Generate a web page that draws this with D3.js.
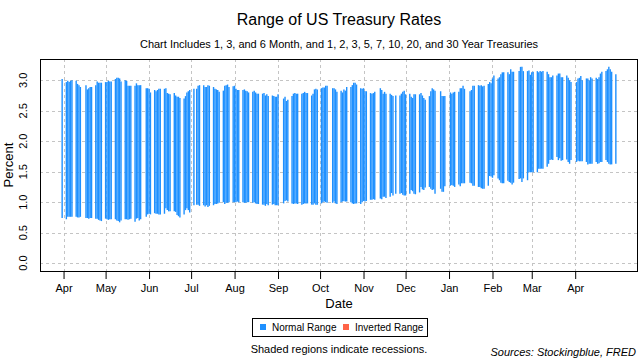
<!DOCTYPE html>
<html><head><meta charset="utf-8">
<script src="https://cdn.jsdelivr.net/npm/d3@7"></script>
<style>body{margin:0;background:#fff}svg{display:block}text{font-family:"Liberation Sans",Arial,sans-serif}</style>
</head><body>
<svg id="c" width="640" height="360"></svg>
<script>
const dates = ["2017-03-31",
"2017-04-03","2017-04-04","2017-04-05","2017-04-06","2017-04-07",
"2017-04-10","2017-04-11","2017-04-12","2017-04-13",
"2017-04-17","2017-04-18","2017-04-19","2017-04-20","2017-04-21",
"2017-04-24","2017-04-25","2017-04-26","2017-04-27","2017-04-28",
"2017-05-01","2017-05-02","2017-05-03","2017-05-04","2017-05-05",
"2017-05-08","2017-05-09","2017-05-10","2017-05-11","2017-05-12",
"2017-05-15","2017-05-16","2017-05-17","2017-05-18","2017-05-19",
"2017-05-22","2017-05-23","2017-05-24","2017-05-25","2017-05-26",
"2017-05-30","2017-05-31","2017-06-01","2017-06-02",
"2017-06-05","2017-06-06","2017-06-07","2017-06-08","2017-06-09",
"2017-06-12","2017-06-13","2017-06-14","2017-06-15","2017-06-16",
"2017-06-19","2017-06-20","2017-06-21","2017-06-22","2017-06-23",
"2017-06-26","2017-06-27","2017-06-28","2017-06-29","2017-06-30",
"2017-07-03","2017-07-05","2017-07-06","2017-07-07",
"2017-07-10","2017-07-11","2017-07-12","2017-07-13","2017-07-14",
"2017-07-17","2017-07-18","2017-07-19","2017-07-20","2017-07-21",
"2017-07-24","2017-07-25","2017-07-26","2017-07-27","2017-07-28",
"2017-07-31","2017-08-01","2017-08-02","2017-08-03","2017-08-04",
"2017-08-07","2017-08-08","2017-08-09","2017-08-10","2017-08-11",
"2017-08-14","2017-08-15","2017-08-16","2017-08-17","2017-08-18",
"2017-08-21","2017-08-22","2017-08-23","2017-08-24","2017-08-25",
"2017-08-28","2017-08-29","2017-08-30","2017-08-31","2017-09-01",
"2017-09-05","2017-09-06","2017-09-07","2017-09-08",
"2017-09-11","2017-09-12","2017-09-13","2017-09-14","2017-09-15",
"2017-09-18","2017-09-19","2017-09-20","2017-09-21","2017-09-22",
"2017-09-25","2017-09-26","2017-09-27","2017-09-28","2017-09-29",
"2017-10-02","2017-10-03","2017-10-04","2017-10-05","2017-10-06",
"2017-10-10","2017-10-11","2017-10-12","2017-10-13",
"2017-10-16","2017-10-17","2017-10-18","2017-10-19","2017-10-20",
"2017-10-23","2017-10-24","2017-10-25","2017-10-26","2017-10-27",
"2017-10-30","2017-10-31","2017-11-01","2017-11-02","2017-11-03",
"2017-11-06","2017-11-07","2017-11-08","2017-11-09",
"2017-11-13","2017-11-14","2017-11-15","2017-11-16","2017-11-17",
"2017-11-20","2017-11-21","2017-11-22","2017-11-24",
"2017-11-27","2017-11-28","2017-11-29","2017-11-30","2017-12-01",
"2017-12-04","2017-12-05","2017-12-06","2017-12-07","2017-12-08",
"2017-12-11","2017-12-12","2017-12-13","2017-12-14","2017-12-15",
"2017-12-18","2017-12-19","2017-12-20","2017-12-21","2017-12-22",
"2017-12-26","2017-12-27","2017-12-28","2017-12-29",
"2018-01-02","2018-01-03","2018-01-04","2018-01-05",
"2018-01-08","2018-01-09","2018-01-10","2018-01-11","2018-01-12",
"2018-01-16","2018-01-17","2018-01-18","2018-01-19",
"2018-01-22","2018-01-23","2018-01-24","2018-01-25","2018-01-26",
"2018-01-29","2018-01-30","2018-01-31","2018-02-01","2018-02-02",
"2018-02-05","2018-02-06","2018-02-07","2018-02-08","2018-02-09",
"2018-02-12","2018-02-13","2018-02-14","2018-02-15","2018-02-16",
"2018-02-20","2018-02-21","2018-02-22","2018-02-23",
"2018-02-26","2018-02-27","2018-02-28","2018-03-01","2018-03-02",
"2018-03-05","2018-03-06","2018-03-07","2018-03-08","2018-03-09",
"2018-03-12","2018-03-13","2018-03-14","2018-03-15","2018-03-16",
"2018-03-19","2018-03-20","2018-03-21","2018-03-22","2018-03-23",
"2018-03-26","2018-03-27","2018-03-28","2018-03-29",
"2018-04-02","2018-04-03","2018-04-04","2018-04-05","2018-04-06",
"2018-04-09","2018-04-10","2018-04-11","2018-04-12","2018-04-13",
"2018-04-16","2018-04-17","2018-04-18","2018-04-19","2018-04-20",
"2018-04-23","2018-04-24","2018-04-25","2018-04-26","2018-04-27",
"2018-04-30"];

const highs = [3.02,
2.97,2.99,2.97,2.99,3.00,
2.99,2.94,2.92,2.89,
2.92,2.85,2.87,2.89,2.89,
2.92,2.98,2.96,2.96,2.96,
2.97,2.97,2.99,2.98,2.98,
3.02,3.04,3.04,3.03,2.98,
3.00,2.99,2.91,2.91,2.91,
2.91,2.95,2.92,2.92,2.92,
2.87,2.87,2.86,2.80,
2.84,2.82,2.84,2.86,2.86,
2.86,2.87,2.79,2.78,2.77,
2.79,2.75,2.73,2.73,2.71,
2.70,2.74,2.80,2.82,2.84,
2.86,2.86,2.91,2.92,
2.92,2.89,2.89,2.92,2.91,
2.89,2.86,2.85,2.84,2.81,
2.83,2.91,2.92,2.93,2.89,
2.90,2.91,2.86,2.84,2.84,
2.84,2.85,2.83,2.82,2.80,
2.81,2.83,2.80,2.78,2.78,
2.78,2.79,2.75,2.77,2.74,
2.75,2.74,2.73,2.73,2.77,
2.70,2.73,2.66,2.68,
2.74,2.78,2.79,2.78,2.78,
2.78,2.79,2.81,2.79,2.79,
2.75,2.78,2.85,2.86,2.85,
2.87,2.88,2.88,2.91,2.91,
2.87,2.87,2.85,2.81,
2.83,2.80,2.85,2.83,2.89,
2.89,2.92,2.96,2.96,2.93,
2.87,2.86,2.87,2.82,2.82,
2.79,2.78,2.79,2.81,
2.87,2.84,2.78,2.81,2.78,
2.78,2.76,2.74,2.75,
2.75,2.78,2.81,2.83,2.77,
2.78,2.73,2.71,2.77,2.77,
2.77,2.79,2.75,2.71,2.68,
2.74,2.82,2.87,2.85,2.83,
2.82,2.74,2.74,2.74,
2.80,2.78,2.80,2.81,
2.81,2.87,2.87,2.91,2.86,
2.82,2.84,2.91,2.91,
2.92,2.91,2.92,2.90,2.91,
2.94,2.97,2.95,3.03,3.08,
3.03,3.05,3.10,3.13,3.13,
3.13,3.10,3.18,3.14,3.14,
3.15,3.22,3.22,3.15,
3.15,3.16,3.09,3.13,3.14,
3.15,3.13,3.15,3.14,3.15,
3.14,3.10,3.05,3.05,3.08,
3.08,3.11,3.11,3.05,3.05,
3.08,3.04,3.00,2.97,
2.97,3.03,3.04,3.07,3.00,
3.03,3.03,3.00,3.05,3.03,
3.04,3.02,3.05,3.11,3.14,
3.15,3.18,3.22,3.18,3.14,
3.10];

const lows = [0.74,
0.72,0.76,0.76,0.76,0.76,
0.76,0.75,0.75,0.76,
0.74,0.74,0.73,0.74,0.74,
0.73,0.73,0.71,0.70,0.69,
0.73,0.72,0.71,0.72,0.72,
0.72,0.70,0.69,0.67,0.70,
0.72,0.72,0.71,0.72,0.73,
0.68,0.73,0.74,0.70,0.72,
0.76,0.80,0.81,0.80,
0.82,0.81,0.81,0.80,0.80,
0.81,0.90,0.87,0.85,0.85,
0.85,0.84,0.79,0.77,0.75,
0.80,0.87,0.90,0.87,0.83,
0.95,0.96,0.96,0.94,
0.95,0.93,0.95,0.92,0.94,
0.95,0.97,0.97,0.98,0.99,
1.00,0.97,0.99,0.99,1.00,
1.00,1.00,1.00,1.01,1.00,
1.00,0.99,0.99,1.00,1.00,
0.99,1.00,0.98,0.97,0.97,
0.96,0.96,0.94,0.97,0.95,
0.96,0.97,0.95,0.95,0.95,
0.98,1.02,1.03,1.01,
0.98,0.97,0.98,0.98,0.97,
0.96,0.97,0.98,0.98,0.98,
0.96,0.96,0.98,0.96,0.96,
0.98,1.00,1.01,1.00,0.99,
0.99,1.01,0.98,0.97,
1.00,1.01,1.02,1.01,1.01,
1.00,0.98,0.97,0.98,0.98,
0.97,1.00,1.02,1.01,1.02,
1.04,1.04,1.05,1.04,
1.06,1.05,1.09,1.09,1.07,
1.09,1.15,1.11,1.14,
1.14,1.15,1.12,1.11,1.11,
1.14,1.20,1.18,1.14,1.13,
1.16,1.25,1.21,1.20,1.24,
1.25,1.22,1.20,1.21,1.14,
1.22,1.17,1.17,1.26,
1.27,1.28,1.27,1.25,
1.29,1.26,1.31,1.31,1.31,
1.32,1.31,1.27,1.27,
1.25,1.25,1.23,1.22,1.22,
1.27,1.43,1.42,1.40,1.44,
1.39,1.36,1.32,1.31,1.31,
1.35,1.33,1.32,1.29,1.32,
1.38,1.39,1.33,1.39,
1.36,1.49,1.49,1.49,1.49,
1.49,1.55,1.55,1.55,1.55,
1.58,1.63,1.69,1.70,1.69,
1.74,1.69,1.72,1.68,1.69,
1.70,1.66,1.63,1.69,
1.66,1.68,1.67,1.67,1.67,
1.66,1.62,1.63,1.63,1.63,
1.66,1.63,1.64,1.66,1.66,
1.69,1.66,1.63,1.62,1.62,
1.63];

const yTicks = [0, 0.5, 1, 1.5, 2, 2.5, 3];
const monthTicks = ["2017-04-01","2017-05-01","2017-06-01","2017-07-01","2017-08-01","2017-09-01","2017-10-01","2017-11-01","2017-12-01","2018-01-01","2018-02-01","2018-03-01","2018-04-01"];
const monthLabels = ["Apr","May","Jun","Jul","Aug","Sep","Oct","Nov","Dec","Jan","Feb","Mar","Apr"];
const legendLabels = ["Normal Range","Inverted Range"];
const legendColors = ["#1E90FF","#FF6347"];

const parse = d3.utcParse("%Y-%m-%d");
const data = dates.map((d,i)=>({date:parse(d), hi:highs[i], lo:lows[i]}));
const svg = d3.select("#c");
const L=40,R=638,T=59,B=271;

const ext = d3.extent(data, d=>d.date);
const pad = (ext[1]-ext[0])*0.04;
const x = d3.scaleUtc().domain([new Date(+ext[0]-pad), new Date(+ext[1]+pad)]).range([L,R]);
const ymax = d3.max(highs), ymin = 0;
const yp = (ymax-ymin)*0.04;
const y = d3.scaleLinear().domain([ymin-yp, ymax+yp]).range([B,T]);

const mt = monthTicks.map(parse);

// grid
const g = svg.append("g");
g.selectAll(".hg").data(yTicks).join("line")
 .attr("x1",L).attr("x2",R).attr("y1",d=>Math.round(y(d))+0.5).attr("y2",d=>Math.round(y(d))+0.5)
 .attr("stroke","#c4c4c4").attr("stroke-dasharray","3,3");
g.selectAll(".vg").data(mt).join("line")
 .attr("x1",d=>Math.round(x(d))+0.5).attr("x2",d=>Math.round(x(d))+0.5).attr("y1",T).attr("y2",B)
 .attr("stroke","#c4c4c4").attr("stroke-dasharray","3,3");

// bars
svg.append("g").selectAll("line").data(data).join("line")
 .attr("x1",d=>x(d.date)).attr("x2",d=>x(d.date))
 .attr("y1",d=>y(d.hi)).attr("y2",d=>y(d.lo))
 .attr("stroke",d=>d.hi>=d.lo?legendColors[0]:legendColors[1])
 .attr("stroke-width",1.4);

// box
svg.append("rect").attr("x",L+0.5).attr("y",T+0.5).attr("width",R-L-1).attr("height",B-T)
 .attr("fill","none").attr("stroke","#000").attr("stroke-width",1);

// x axis
const xa = svg.append("g").attr("transform",`translate(0,${B})`)
 .call(d3.axisBottom(x).tickValues(mt).tickSize(8).tickFormat((d,i)=>monthLabels[i]));
xa.select(".domain").remove();
xa.selectAll(".tick line").attr("stroke","#000");
xa.selectAll("text").attr("font-size",11).attr("fill","#000").attr("dy","0.9em").attr("font-family","Liberation Sans, Arial, sans-serif");

// y labels
svg.append("g").selectAll("text").data(yTicks).join("text")
 .attr("transform",d=>`translate(27,${y(d)}) rotate(-90)`)
 .attr("text-anchor","middle").attr("font-size",11)
 .text(d=>d3.format(".1f")(d));

// titles
const cx=(L+R)/2;
svg.append("text").attr("x",cx).attr("y",25).attr("text-anchor","middle").attr("font-size",16).text("Range of US Treasury Rates");
svg.append("text").attr("x",cx).attr("y",48).attr("text-anchor","middle").attr("font-size",11)
 .text("Chart Includes 1, 3, and 6 Month, and 1, 2, 3, 5, 7, 10, 20, and 30 Year Treasuries");
svg.append("text").attr("x",cx).attr("y",308).attr("text-anchor","middle").attr("font-size",13).text("Date");
svg.append("text").attr("transform",`translate(13,${(T+B)/2}) rotate(-90)`).attr("text-anchor","middle").attr("font-size",13).text("Percent");

// legend
const lg = svg.append("g");
lg.append("rect").attr("x",252.5).attr("y",318.5).attr("width",175).attr("height",18).attr("fill","#fff").attr("stroke","#000");
const lx=[260,343];
legendLabels.forEach((t,i)=>{
  lg.append("rect").attr("x",lx[i]).attr("y",324).attr("width",6).attr("height",6).attr("fill",legendColors[i]);
  lg.append("text").attr("x",lx[i]+12).attr("y",331).attr("font-size",10).text(t);
});
svg.append("text").attr("x",cx).attr("y",353).attr("text-anchor","middle").attr("font-size",11).text("Shaded regions indicate recessions.");
svg.append("text").attr("x",636).attr("y",356).attr("text-anchor","end").attr("font-size",11).attr("font-style","italic").text("Sources: Stockingblue, FRED");
</script>
</body></html>
